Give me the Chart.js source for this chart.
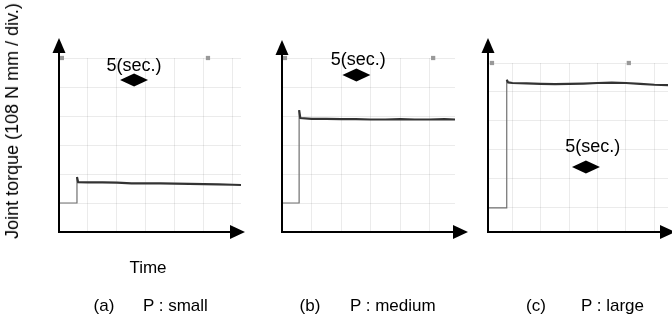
<!DOCTYPE html>
<html>
<head>
<meta charset="utf-8">
<script src="https://cdn.jsdelivr.net/npm/chart.js@4.4.1/dist/chart.umd.min.js"></script>
<style>
body { margin: 0; background: #fff; }
#wrap { position: relative; width: 672px; height: 320px; overflow: hidden; font-family: "Liberation Sans", Arial, sans-serif; color: #000; }
canvas { position: absolute; left: 0; top: 0; }
.lbl { position: absolute; font-size: 17px; line-height: 1; white-space: nowrap; transform: translate(-50%, -50%); }
.lft { transform: translate(0, -50%); }
</style>
</head>
<body>
<div id="wrap">
  <canvas id="panelA" width="672" height="320"></canvas>
  <canvas id="panelB" width="672" height="320"></canvas>
  <canvas id="panelC" width="672" height="320"></canvas>

  <div class="lbl" style="left:12px; top:121px; font-size:18px; transform:translate(-50%,-50%) rotate(-90deg);">Joint torque (108 N mm / div.)</div>
  <div class="lbl" style="left:148px; top:267px;">Time</div>
  <div class="lbl" style="left:104px; top:305px;">(a)</div>
  <div class="lbl lft" style="left:143px; top:305px;">P : small</div>
  <div class="lbl" style="left:310px; top:305px;">(b)</div>
  <div class="lbl lft" style="left:350px; top:305px;">P : medium</div>
  <div class="lbl" style="left:536px; top:305px;">(c)</div>
  <div class="lbl lft" style="left:581px; top:305px;">P : large</div>
</div>

<script>
// time in divisions, torque in divisions (baseline = 1 div)
const smallTime   = [0, 0.62, 0.62, 0.66, 1.0, 1.5, 2.0, 2.5, 3.0, 3.5, 4.0, 4.5, 5.0, 5.5, 6.0, 6.28];
const smallTorque = [1.0, 1.0, 1.9, 1.72, 1.71, 1.71, 1.70, 1.68, 1.68, 1.68, 1.67, 1.66, 1.65, 1.64, 1.63, 1.62];

const mediumTime   = [0, 0.58, 0.58, 0.62, 1.0, 1.5, 2.0, 2.5, 3.0, 3.5, 4.0, 4.5, 5.0, 5.5, 5.86];
const mediumTorque = [1.0, 1.0, 4.2, 3.93, 3.90, 3.90, 3.89, 3.89, 3.88, 3.88, 3.89, 3.88, 3.88, 3.89, 3.88];

const largeTime   = [0.14, 0.80, 0.80, 0.85, 1.0, 1.5, 2.0, 2.5, 3.0, 3.5, 4.0, 4.5, 5.0, 5.5, 6.0, 6.48];
const largeTorque = [1.0, 1.0, 5.42, 5.33, 5.31, 5.30, 5.28, 5.27, 5.28, 5.29, 5.31, 5.32, 5.31, 5.28, 5.25, 5.24];

// little cursor marks along the top grid line of the scope
const smallMarks  = [[0.1, 6], [5.14, 6]];
const mediumMarks = [[0.1, 6], [5.12, 6]];
const largeMarks  = [[0.28, 6], [5.1, 6]];

function pairs(xs, ys) {
    return xs.map((x, i) => ({ x: x, y: ys[i] }));
}

function intTicks(scale) {
    var out = [];
    for (var v = Math.ceil(scale.min); v <= scale.max + 1e-9; v++) out.push({ value: v });
    scale.ticks = out;
}

// axis arrows, the 5(sec.) note and its diamond
const scopeDeco = {
    id: 'scopeDeco',
    afterDraw(chart, args, o) {
        var ctx = chart.ctx;
        var xs = chart.scales.x, ys = chart.scales.y;
        var ax = xs.left, ay = ys.bottom;
        ctx.save();
        ctx.strokeStyle = '#000';
        ctx.fillStyle = '#000';
        ctx.lineWidth = 2;

        ctx.beginPath();
        ctx.moveTo(ax, ay + 1);
        ctx.lineTo(ax, o.tipY + 12);
        ctx.stroke();
        ctx.beginPath();
        ctx.moveTo(ax, o.tipY);
        ctx.lineTo(ax - 6.5, o.tipY + 15);
        ctx.lineTo(ax + 6.5, o.tipY + 15);
        ctx.closePath();
        ctx.fill();

        ctx.beginPath();
        ctx.moveTo(ax - 1, ay);
        ctx.lineTo(o.tipX - 12, ay);
        ctx.stroke();
        ctx.beginPath();
        ctx.moveTo(o.tipX, ay);
        ctx.lineTo(o.tipX - 15, ay - 7);
        ctx.lineTo(o.tipX - 15, ay + 7);
        ctx.closePath();
        ctx.fill();

        var nx = xs.getPixelForValue(o.note[0]), ny = ys.getPixelForValue(o.note[1]);
        ctx.font = '18px "Liberation Sans", Arial, sans-serif';
        ctx.textAlign = 'center';
        ctx.textBaseline = 'middle';
        ctx.fillText('5(sec.)', nx, ny);

        var dx = xs.getPixelForValue(o.mark[0]), dy = ys.getPixelForValue(o.mark[1]);
        ctx.beginPath();
        ctx.moveTo(dx - 14, dy);
        ctx.lineTo(dx, dy - 6.5);
        ctx.lineTo(dx + 14, dy);
        ctx.lineTo(dx, dy + 6.5);
        ctx.closePath();
        ctx.fill();
        ctx.restore();
    }
};

function makePanel(id, time, torque, marks, xr, yr, pad, deco) {
    var config = {
        type: 'line',
        data: {
            datasets: [{
                data: pairs(time, torque),
                borderColor: '#333',
                borderWidth: 2.2,
                pointRadius: 0,
                tension: 0,
                segment: {
                    borderColor: c => c.p0DataIndex <= 1 ? '#707070' : '#333',
                    borderWidth: c => c.p0DataIndex <= 1 ? 1.2 : 2.2
                }
            }, {
                data: marks.map(m => ({ x: m[0], y: m[1] })),
                showLine: false,
                pointStyle: 'rect',
                pointRadius: 3,
                pointBackgroundColor: '#999',
                pointBorderWidth: 0,
                clip: false
            }]
        },
        options: {
            responsive: false,
            animation: false,
            layout: { padding: pad },
            plugins: {
                legend: { display: false },
                tooltip: { enabled: false },
                scopeDeco: deco
            },
            scales: {
                x: {
                    type: 'linear',
                    min: xr[0], max: xr[1],
                    afterBuildTicks: intTicks,
                    ticks: { display: false },
                    border: { display: false },
                    grid: { color: 'rgba(0,0,0,0.08)', drawTicks: false }
                },
                y: {
                    type: 'linear',
                    min: yr[0], max: yr[1],
                    afterBuildTicks: intTicks,
                    ticks: { display: false },
                    border: { display: false },
                    grid: { color: 'rgba(0,0,0,0.08)', drawTicks: false }
                }
            }
        },
        plugins: [scopeDeco]
    };
    return new Chart(document.getElementById(id), config);
}

makePanel('panelA', smallTime, smallTorque, smallMarks, [0, 6.28], [0, 6],
    { left: 59, right: 672 - 241, top: 58, bottom: 320 - 232 },
    { tipX: 245, tipY: 38, note: [2.59, 5.74], mark: [2.59, 5.24] });

makePanel('panelB', mediumTime, mediumTorque, mediumMarks, [0, 5.86], [0, 6],
    { left: 282, right: 672 - 455, top: 58, bottom: 320 - 232 },
    { tipX: 468, tipY: 40, note: [2.58, 5.93], mark: [2.52, 5.41] });

makePanel('panelC', largeTime, largeTorque, largeMarks, [0.14, 6.48], [0.17, 6],
    { left: 488, right: 0, top: 63, bottom: 320 - 232 },
    { tipX: 675, tipY: 38, note: [3.83, 3.10], mark: [3.59, 2.41] });
</script>
</body>
</html>
